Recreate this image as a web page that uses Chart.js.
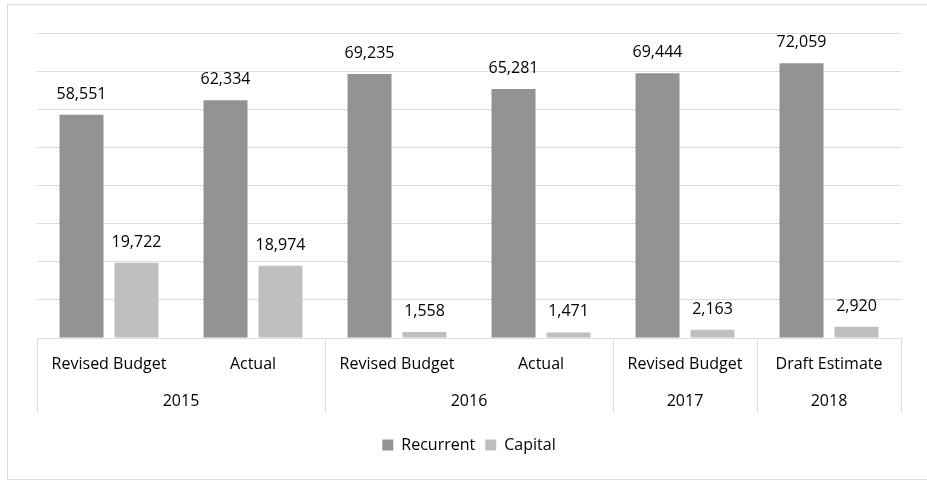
<!DOCTYPE html>
<html><head><meta charset="utf-8">
<script src="https://cdn.jsdelivr.net/npm/chart.js@4"></script>
<style>html,body{margin:0;padding:0;background:#fff}#wrap{width:927px;height:482px;position:relative}</style>
</head><body><div id="wrap"><canvas id="c" width="927" height="482"></canvas></div>
<script>
const categories = ['Revised Budget','Actual','Revised Budget','Actual','Revised Budget','Draft Estimate'];
const years = ['2015','2015','2016','2016','2017','2018'];
const recurrent = [58551,62334,69235,65281,69444,72059];
const capital = [19722,18974,1558,1471,2163,2920];
const seriesNames = ['Recurrent','Capital'];
const yMax = 80000, yStep = 10000;

const FONT = "'Open Sans', sans-serif";
const LINE = '#d9dce1';

const extras = {
  id: 'extras',
  beforeDraw(chart) {
    const ctx = chart.ctx;
    ctx.save();
    ctx.fillStyle = '#fff';
    ctx.fillRect(0, 0, chart.width, chart.height);
    ctx.strokeStyle = LINE;
    ctx.lineWidth = 1;
    ctx.strokeRect(7.5, 4.5, chart.width + 10, 475);
    ctx.restore();
  },
  afterDatasetsDraw(chart) {
    const ctx = chart.ctx;
    ctx.save();
    ctx.font = '16px ' + FONT;
    ctx.fillStyle = '#000';
    ctx.textAlign = 'center';
    ctx.textBaseline = 'alphabetic';
    chart.data.datasets.forEach((ds, di) => {
      const meta = chart.getDatasetMeta(di);
      meta.data.forEach((el, i) => {
        ctx.fillText(ds.data[i].toLocaleString('en-US'), el.x, el.y - 16);
      });
    });
    ctx.restore();
  },
  afterDraw(chart) {
    const ctx = chart.ctx;
    const xs = chart.scales.x;
    const ca = chart.chartArea;
    const n = categories.length;
    const edges = [ca.left];
    const groupYears = [years[0]];
    for (let i = 1; i < n; i++) {
      if (years[i] !== years[i - 1]) {
        edges.push((xs.getPixelForValue(i - 1) + xs.getPixelForValue(i)) / 2);
        groupYears.push(years[i]);
      }
    }
    edges.push(ca.right);
    ctx.save();
    ctx.strokeStyle = LINE;
    ctx.lineWidth = 1;
    edges.forEach(x => {
      const px = Math.round(x) + 0.5;
      ctx.beginPath();
      ctx.moveTo(px, ca.bottom);
      ctx.lineTo(px, ca.bottom + 75);
      ctx.stroke();
    });
    ctx.font = '16px ' + FONT;
    ctx.fillStyle = '#000';
    ctx.textAlign = 'center';
    ctx.textBaseline = 'alphabetic';
    for (let g = 0; g < groupYears.length; g++) {
      ctx.fillText(groupYears[g], (edges[g] + edges[g + 1]) / 2, ca.bottom + 68);
    }
    ctx.restore();
  }
};

new Chart(document.getElementById('c'), {
  type: 'bar',
  data: {
    labels: categories,
    datasets: [
      { label: seriesNames[0], data: recurrent, backgroundColor: '#939393', borderWidth: 0 },
      { label: seriesNames[1], data: capital, backgroundColor: '#bfbfbf', borderWidth: 0 }
    ]
  },
  options: {
    responsive: false,
    animation: false,
    devicePixelRatio: 1,
    layout: { padding: { left: 37, right: 26, top: 33, bottom: 19 } },
    datasets: { bar: { categoryPercentage: 0.764, barPercentage: 0.8 } },
    scales: {
      x: {
        grid: { display: false, drawTicks: false },
        border: { display: true, color: LINE, width: 1 },
        ticks: { font: { family: FONT, size: 16 }, color: '#000', padding: 17, maxRotation: 0, autoSkip: false },
        afterFit: (s) => { s.height = 89; }
      },
      y: {
        min: 0, max: yMax,
        ticks: { display: false, stepSize: yStep },
        grid: { color: LINE, drawTicks: false },
        border: { display: false }
      }
    },
    plugins: {
      legend: {
        position: 'bottom',
        labels: { boxWidth: 11, boxHeight: 11, padding: 10, color: '#000', font: { family: FONT, size: 16 } }
      },
      tooltip: { enabled: false }
    }
  },
  plugins: [extras]
});
</script></body></html>
